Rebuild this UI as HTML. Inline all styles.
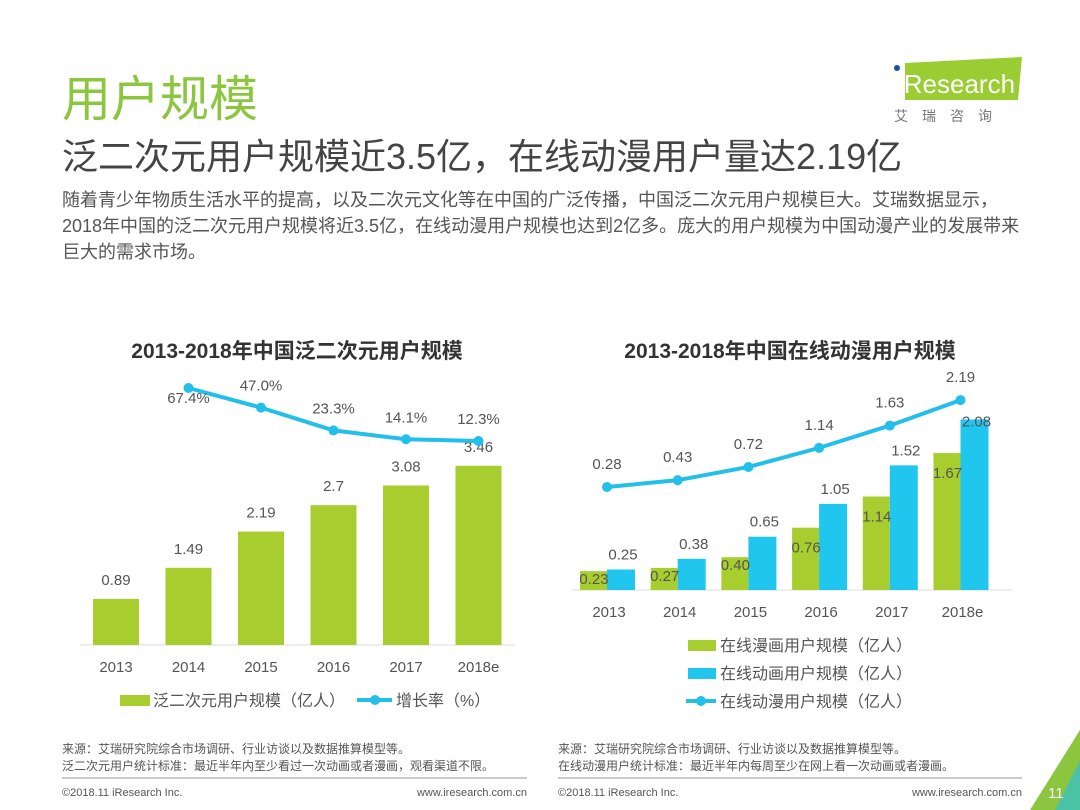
<!DOCTYPE html>
<html><head><meta charset="utf-8"><style>
body{margin:0;width:1080px;height:810px;background:#fff;overflow:hidden;font-family:"Liberation Sans","Noto Sans CJK SC",sans-serif;position:relative}
.a{position:absolute;white-space:nowrap}
</style></head><body>
<div class="a" style="left:62px;top:60px;font-size:49px;color:#8cc63f">用户规模</div>
<div class="a" style="left:62px;top:128px;font-size:36px;color:#444">泛二次元用户规模近3.5亿，在线动漫用户量达2.19亿</div>
<div class="a" style="left:62px;top:187px;font-size:18px;line-height:26px;color:#555">随着青少年物质生活水平的提高，以及二次元文化等在中国的广泛传播，中国泛二次元用户规模巨大。艾瑞数据显示，<br>2018年中国的泛二次元用户规模将近3.5亿，在线动漫用户规模也达到2亿多。庞大的用户规模为中国动漫产业的发展带来<br>巨大的需求市场。</div>
<svg class="a" style="left:890px;top:55px" width="140" height="70">
<polygon points="15,8 132,2 128,45 15,45" fill="#9acd32"/>
<circle cx="7" cy="13" r="3" fill="#1a4f9c"/>
<text x="8" y="38" font-size="26" fill="#fff" font-family="Liberation Sans">iResearch</text>
<text x="4" y="66" font-size="14" fill="#777" letter-spacing="14" font-family="Noto Sans CJK SC">艾瑞咨询</text>
</svg>
<svg class="a" style="left:0;top:0" width="1080" height="810" id="svg">
<text x="297" y="358" text-anchor="middle" font-size="21" font-weight="bold" fill="#333">2013-2018年中国泛二次元用户规模</text>
<text x="790" y="358" text-anchor="middle" font-size="21" font-weight="bold" fill="#333">2013-2018年中国在线动漫用户规模</text>
<line x1="80" y1="645" x2="515" y2="645" stroke="#ddd"/>
<line x1="572" y1="590" x2="1012" y2="590" stroke="#ddd"/>
<g id="L"></g><g id="R"></g>
<rect x="120" y="695" width="30" height="11" fill="#a8cd2e"/>
<text x="153" y="706" font-size="16" fill="#555">泛二次元用户规模（亿人）</text>
<line x1="357" y1="700" x2="392" y2="700" stroke="#21bfe9" stroke-width="4"/>
<circle cx="375" cy="700" r="5" fill="#21bfe9"/>
<text x="396" y="706" font-size="16" fill="#555">增长率（%）</text>
<rect x="688" y="640" width="28" height="11" fill="#a8cd2e"/>
<text x="720" y="651" font-size="16" fill="#555">在线漫画用户规模（亿人）</text>
<rect x="688" y="668" width="28" height="11" fill="#21c6ee"/>
<text x="720" y="679" font-size="16" fill="#555">在线动画用户规模（亿人）</text>
<line x1="686" y1="701" x2="716" y2="701" stroke="#21bfe9" stroke-width="4"/>
<circle cx="701" cy="701" r="5" fill="#21bfe9"/>
<text x="720" y="707" font-size="16" fill="#555">在线动漫用户规模（亿人）</text>
<g font-size="12" fill="#555">
<text x="62" y="753">来源：艾瑞研究院综合市场调研、行业访谈以及数据推算模型等。</text>
<text x="62" y="770">泛二次元用户统计标准：最近半年内至少看过一次动画或者漫画，观看渠道不限。</text>
<text x="558" y="753">来源：艾瑞研究院综合市场调研、行业访谈以及数据推算模型等。</text>
<text x="558" y="770">在线动漫用户统计标准：最近半年内每周至少在网上看一次动画或者漫画。</text>
<line x1="62" y1="778" x2="527" y2="778" stroke="#999"/>
<line x1="558" y1="778" x2="1022" y2="778" stroke="#999"/>
<text x="62" y="796" font-size="11">©2018.11 iResearch Inc.</text>
<text x="527" y="796" font-size="11" text-anchor="end">www.iresearch.com.cn</text>
<text x="558" y="796" font-size="11">©2018.11 iResearch Inc.</text>
<text x="1022" y="796" font-size="11" text-anchor="end">www.iresearch.com.cn</text>
</g>
<polygon points="1080,730 1080,810 1030,810" fill="#8cc63f"/>
<polygon points="1080,760 1080,810 1055,810" fill="#21bfe9" opacity="0.6"/>
<text x="1048" y="798" font-size="15" fill="#fff">11</text>
</svg>
<script>
const years=["2013","2014","2015","2016","2017","2018e"];
const panUsers=[0.89,1.49,2.19,2.7,3.08,3.46];
const growth=[null,67.4,47.0,23.3,14.1,12.3];
const growthLabels=["","67.4%","47.0%","23.3%","14.1%","12.3%"];
const comic=[0.23,0.27,0.40,0.76,1.14,1.67];
const comicLabels=["0.23","0.27","0.40","0.76","1.14","1.67"];
const anim=[0.25,0.38,0.65,1.05,1.52,2.08];
const total=[0.28,0.43,0.72,1.14,1.63,2.19];
const NS="http://www.w3.org/2000/svg";
function mk(p,t,a,txt){const e=document.createElementNS(NS,t);for(const k in a)e.setAttribute(k,a[k]);if(txt!==undefined)e.textContent=txt;p.appendChild(e);return e;}
const L=document.getElementById('L'),R=document.getElementById('R');
const lx=i=>116+i*72.5, ly=v=>645-v*51.8, lg=v=>441-(v-12.3)*0.962;
let pts=[];
years.forEach((y,i)=>{
 const b=mk(L,'rect',{x:lx(i)-23,y:ly(panUsers[i]),width:46,height:645-ly(panUsers[i]),fill:'#a8cd2e'});
 
 
 mk(L,'text',{x:lx(i),y:ly(panUsers[i])-14,'text-anchor':'middle','font-size':15,fill:'#555'},String(panUsers[i]));
 mk(L,'text',{x:lx(i),y:672,'text-anchor':'middle','font-size':15,fill:'#555'},y);
 if(growth[i]!==null)pts.push([lx(i),lg(growth[i]),i]);
});
const gl=mk(L,'polyline',{points:pts.map(p=>p[0]+','+p[1]).join(' '),fill:'none',stroke:'#21bfe9','stroke-width':4});


pts.forEach((p,k)=>{
 const c=mk(L,'circle',{cx:p[0],cy:p[1],r:5,fill:'#21bfe9'});
 
 
 mk(L,'text',{x:p[0],y:k==0?p[1]+15:p[1]-17,'text-anchor':'middle','font-size':15,fill:'#555'},growthLabels[p[2]]);
});
const rx=i=>607+i*70.7, ry=v=>590-v*82, rt=v=>487-(v-0.28)*45.5;
let tp=[];
years.forEach((y,i)=>{
 const g=mk(R,'rect',{x:rx(i)-27,y:ry(comic[i]),width:27,height:590-ry(comic[i]),fill:'#a8cd2e'});
 
 
 const b=mk(R,'rect',{x:rx(i),y:ry(anim[i]),width:28,height:590-ry(anim[i]),fill:'#21c6ee'});
 
 
 mk(R,'text',{x:rx(i)-13,y:ry(comic[i])+(i<3?13:25),'text-anchor':'middle','font-size':15,fill:'#555'},comicLabels[i]);
 mk(R,'text',{x:rx(i)+16,y:ry(anim[i])+(i==5?7:-10),'text-anchor':'middle','font-size':15,fill:'#555'},anim[i].toFixed(2));
 mk(R,'text',{x:rx(i)+2,y:617,'text-anchor':'middle','font-size':15,fill:'#555'},y);
 tp.push([rx(i),rt(total[i])]);
});
const tl=mk(R,'polyline',{points:tp.map(p=>p.join(',')).join(' '),fill:'none',stroke:'#21bfe9','stroke-width':4});


tp.forEach((p,i)=>{
 const c=mk(R,'circle',{cx:p[0],cy:p[1],r:5,fill:'#21bfe9'});
 
 
 mk(R,'text',{x:p[0],y:p[1]-18,'text-anchor':'middle','font-size':15,fill:'#555'},total[i].toFixed(2));
});
</script>
</body></html>
